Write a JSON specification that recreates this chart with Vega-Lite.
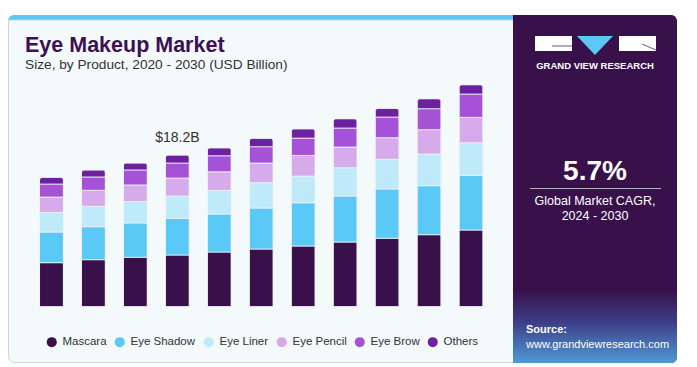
{
  "$schema": "https://vega.github.io/schema/vega-lite/v6.json",
  "width": 697,
  "height": 367,
  "autosize": "none",
  "padding": 0,
  "background": "white",
  "config": {"view": {"stroke": null}, "font": "Liberation Sans"},
  "datasets": {
    "products": [
      {"product": "Mascara", "rank": 1},
      {"product": "Eye Shadow", "rank": 2},
      {"product": "Eye Liner", "rank": 3},
      {"product": "Eye Pencil", "rank": 4},
      {"product": "Eye Brow", "rank": 5},
      {"product": "Others", "rank": 6}
    ],
    "bars": [
      {"year": "2020", "product": "Mascara", "value": 5.28},
      {"year": "2020", "product": "Eye Shadow", "value": 3.68},
      {"year": "2020", "product": "Eye Liner", "value": 2.36},
      {"year": "2020", "product": "Eye Pencil", "value": 1.84},
      {"year": "2020", "product": "Eye Brow", "value": 1.56},
      {"year": "2020", "product": "Others", "value": 0.80},
      {"year": "2021", "product": "Mascara", "value": 5.64},
      {"year": "2021", "product": "Eye Shadow", "value": 3.96},
      {"year": "2021", "product": "Eye Liner", "value": 2.45},
      {"year": "2021", "product": "Eye Pencil", "value": 1.92},
      {"year": "2021", "product": "Eye Brow", "value": 1.60},
      {"year": "2021", "product": "Others", "value": 0.84},
      {"year": "2022", "product": "Mascara", "value": 5.93},
      {"year": "2022", "product": "Eye Shadow", "value": 4.12},
      {"year": "2022", "product": "Eye Liner", "value": 2.56},
      {"year": "2022", "product": "Eye Pencil", "value": 2.00},
      {"year": "2022", "product": "Eye Brow", "value": 1.80},
      {"year": "2022", "product": "Others", "value": 0.84},
      {"year": "2023", "product": "Mascara", "value": 6.20},
      {"year": "2023", "product": "Eye Shadow", "value": 4.40},
      {"year": "2023", "product": "Eye Liner", "value": 2.68},
      {"year": "2023", "product": "Eye Pencil", "value": 2.16},
      {"year": "2023", "product": "Eye Brow", "value": 1.80},
      {"year": "2023", "product": "Others", "value": 0.96},
      {"year": "2024", "product": "Mascara", "value": 6.56},
      {"year": "2024", "product": "Eye Shadow", "value": 4.56},
      {"year": "2024", "product": "Eye Liner", "value": 2.84},
      {"year": "2024", "product": "Eye Pencil", "value": 2.23},
      {"year": "2024", "product": "Eye Brow", "value": 1.92},
      {"year": "2024", "product": "Others", "value": 0.96},
      {"year": "2025", "product": "Mascara", "value": 6.92},
      {"year": "2025", "product": "Eye Shadow", "value": 4.92},
      {"year": "2025", "product": "Eye Liner", "value": 3.04},
      {"year": "2025", "product": "Eye Pencil", "value": 2.36},
      {"year": "2025", "product": "Eye Brow", "value": 1.96},
      {"year": "2025", "product": "Others", "value": 1.01},
      {"year": "2026", "product": "Mascara", "value": 7.28},
      {"year": "2026", "product": "Eye Shadow", "value": 5.19},
      {"year": "2026", "product": "Eye Liner", "value": 3.20},
      {"year": "2026", "product": "Eye Pencil", "value": 2.48},
      {"year": "2026", "product": "Eye Brow", "value": 2.08},
      {"year": "2026", "product": "Others", "value": 1.12},
      {"year": "2027", "product": "Mascara", "value": 7.76},
      {"year": "2027", "product": "Eye Shadow", "value": 5.52},
      {"year": "2027", "product": "Eye Liner", "value": 3.40},
      {"year": "2027", "product": "Eye Pencil", "value": 2.48},
      {"year": "2027", "product": "Eye Brow", "value": 2.28},
      {"year": "2027", "product": "Others", "value": 1.12},
      {"year": "2028", "product": "Mascara", "value": 8.21},
      {"year": "2028", "product": "Eye Shadow", "value": 5.92},
      {"year": "2028", "product": "Eye Liner", "value": 3.56},
      {"year": "2028", "product": "Eye Pencil", "value": 2.59},
      {"year": "2028", "product": "Eye Brow", "value": 2.48},
      {"year": "2028", "product": "Others", "value": 1.04},
      {"year": "2029", "product": "Mascara", "value": 8.64},
      {"year": "2029", "product": "Eye Shadow", "value": 5.88},
      {"year": "2029", "product": "Eye Liner", "value": 3.80},
      {"year": "2029", "product": "Eye Pencil", "value": 2.92},
      {"year": "2029", "product": "Eye Brow", "value": 2.52},
      {"year": "2029", "product": "Others", "value": 1.20},
      {"year": "2030", "product": "Mascara", "value": 9.20},
      {"year": "2030", "product": "Eye Shadow", "value": 6.56},
      {"year": "2030", "product": "Eye Liner", "value": 3.91},
      {"year": "2030", "product": "Eye Pencil", "value": 3.05},
      {"year": "2030", "product": "Eye Brow", "value": 2.80},
      {"year": "2030", "product": "Others", "value": 1.12}
    ]
  },
  "layer": [
    {
      "data": {"values": [{}]},
      "mark": {"type": "rect", "fill": "#5bc8f5", "cornerRadius": 6},
      "encoding": {"x": {"value": 8}, "x2": {"value": 530}, "y": {"value": 15}, "y2": {"value": 40}}
    },
    {
      "data": {"values": [{}]},
      "mark": {"type": "rect", "fill": "#f4f9fc", "stroke": "#cfd4d8", "strokeWidth": 1, "cornerRadiusBottomLeft": 6, "cornerRadiusBottomRight": 6},
      "encoding": {"x": {"value": 8.5}, "x2": {"value": 530}, "y": {"value": 20}, "y2": {"value": 362.5}}
    },
    {
      "data": {"values": [{}]},
      "mark": {"type": "rect", "fill": "#38114a", "cornerRadiusTopRight": 6, "cornerRadiusBottomRight": 6},
      "encoding": {"x": {"value": 513}, "x2": {"value": 677}, "y": {"value": 15}, "y2": {"value": 363}}
    },
    {
      "data": {"values": [{}]},
      "mark": {"type": "rect", "cornerRadiusBottomRight": 6, "fill": {"gradient": "linear", "x1": 0, "y1": 0, "x2": 0, "y2": 1, "stops": [{"offset": 0, "color": "#38114a"}, {"offset": 0.45, "color": "#3d3f88"}, {"offset": 1, "color": "#4f9ad6"}]}},
      "encoding": {"x": {"value": 513}, "x2": {"value": 677}, "y": {"value": 290}, "y2": {"value": 363}}
    },
    {
      "data": {"values": [{"t": "Eye Makeup Market"}]},
      "mark": {"type": "text", "align": "left", "baseline": "alphabetic", "font": "Liberation Sans", "fontWeight": "bold", "fontSize": 21.5, "fill": "#3b1153"},
      "encoding": {"text": {"field": "t"}, "x": {"value": 25}, "y": {"value": 52}}
    },
    {
      "data": {"values": [{"t": "Size, by Product, 2020 - 2030 (USD Billion)"}]},
      "mark": {"type": "text", "align": "left", "baseline": "alphabetic", "fontSize": 13.7, "fill": "#333333"},
      "encoding": {"text": {"field": "t"}, "x": {"value": 25}, "y": {"value": 68.5}}
    },
    {
      "data": {"name": "bars"},
      "transform": [
        {"lookup": "product", "from": {"data": {"name": "products"}, "key": "product", "fields": ["rank"]}}
      ],
      "mark": {"type": "bar", "cornerRadiusEnd": 3, "stroke": "#eef4f8", "strokeWidth": 0.8},
      "encoding": {
        "x": {"field": "year", "type": "ordinal", "scale": {"range": [30.5, 492], "paddingInner": 0.43, "paddingOuter": 0.215},
          "axis": {"title": null, "orient": "bottom", "offset": -60.3, "domain": false, "ticks": false, "labelPadding": 3, "labelFontSize": 13, "labelColor": "#222222", "labelAngle": 0}},
        "y": {"field": "value", "type": "quantitative", "stack": "zero", "scale": {"domain": [0, 27], "range": [306.7, 81.7], "nice": false}, "axis": null},
        "order": {"field": "rank", "type": "quantitative", "sort": "ascending"},
        "color": {"field": "product", "type": "nominal",
          "sort": ["Mascara", "Eye Shadow", "Eye Liner", "Eye Pencil", "Eye Brow", "Others"],
          "scale": {"domain": ["Mascara", "Eye Shadow", "Eye Liner", "Eye Pencil", "Eye Brow", "Others"], "range": ["#39104a", "#5bc9f5", "#beeaf9", "#d6aaeb", "#a552d6", "#6d219e"]},
          "legend": {"orient": "none", "legendX": 46, "legendY": 336, "direction": "horizontal", "title": null, "symbolType": "circle", "symbolSize": 100, "symbolStrokeWidth": 0, "labelFontSize": 11.5, "labelColor": "#333333", "columnPadding": 7, "labelOffset": 5}}
      }
    },
    {
      "data": {"values": [{"year": "2023", "total": 18.2, "label": "$18.2B"}]},
      "mark": {"type": "text", "baseline": "alphabetic", "dy": -13, "fontSize": 14, "fill": "#333333"},
      "encoding": {"x": {"field": "year", "type": "ordinal"}, "y": {"field": "total", "type": "quantitative"}, "text": {"field": "label"}}
    },
    {
      "data": {"values": [{}]},
      "mark": {"type": "rect", "fill": "white"},
      "encoding": {"x": {"value": 535}, "x2": {"value": 572}, "y": {"value": 36}, "y2": {"value": 51}}
    },
    {
      "data": {"values": [{}]},
      "mark": {"type": "rect", "fill": "white"},
      "encoding": {"x": {"value": 619}, "x2": {"value": 656}, "y": {"value": 36}, "y2": {"value": 51}}
    },
    {
      "data": {"values": [{}]},
      "mark": {"type": "rule", "stroke": "#6b5a7a", "strokeWidth": 1},
      "encoding": {"x": {"value": 552}, "x2": {"value": 572}, "y": {"value": 46}, "y2": {"value": 46}}
    },
    {
      "data": {"values": [{}]},
      "mark": {"type": "rule", "stroke": "#6b5a7a", "strokeWidth": 1},
      "encoding": {"x": {"value": 642}, "x2": {"value": 656}, "y": {"value": 44}, "y2": {"value": 50}}
    },
    {
      "data": {"values": [{}]},
      "mark": {"type": "point", "shape": "M-1,-0.53L1,-0.53L0,0.53Z", "size": 1296, "filled": true, "fill": "#5bc8f5", "opacity": 1, "strokeWidth": 0},
      "encoding": {"x": {"value": 595}, "y": {"value": 45.5}}
    },
    {
      "data": {"values": [{"t": "GRAND VIEW RESEARCH"}]},
      "mark": {"type": "text", "align": "center", "baseline": "middle", "fontSize": 9.5, "fontWeight": "bold", "fill": "white"},
      "encoding": {"text": {"field": "t"}, "x": {"value": 595}, "y": {"value": 66}}
    },
    {
      "data": {"values": [{"t": "5.7%"}]},
      "mark": {"type": "text", "align": "center", "baseline": "alphabetic", "fontSize": 28, "fontWeight": "bold", "fill": "white"},
      "encoding": {"text": {"field": "t"}, "x": {"value": 595}, "y": {"value": 179.5}}
    },
    {
      "data": {"values": [{}]},
      "mark": {"type": "rule", "stroke": "#b9b0c0", "strokeWidth": 1},
      "encoding": {"x": {"value": 530}, "x2": {"value": 661}, "y": {"value": 188.5}, "y2": {"value": 188.5}}
    },
    {
      "data": {"values": [{"t": "Global  Market CAGR,"}]},
      "mark": {"type": "text", "align": "center", "baseline": "alphabetic", "fontSize": 12.5, "fill": "white"},
      "encoding": {"text": {"field": "t"}, "x": {"value": 595}, "y": {"value": 205}}
    },
    {
      "data": {"values": [{"t": "2024 - 2030"}]},
      "mark": {"type": "text", "align": "center", "baseline": "alphabetic", "fontSize": 12.5, "fill": "white"},
      "encoding": {"text": {"field": "t"}, "x": {"value": 595}, "y": {"value": 220}}
    },
    {
      "data": {"values": [{"t": "Source:"}]},
      "mark": {"type": "text", "align": "left", "baseline": "alphabetic", "fontSize": 11, "fontWeight": "bold", "fill": "white"},
      "encoding": {"text": {"field": "t"}, "x": {"value": 526}, "y": {"value": 333}}
    },
    {
      "data": {"values": [{"t": "www.grandviewresearch.com"}]},
      "mark": {"type": "text", "align": "left", "baseline": "alphabetic", "fontSize": 11, "fill": "white"},
      "encoding": {"text": {"field": "t"}, "x": {"value": 526}, "y": {"value": 348}}
    }
  ]
}
